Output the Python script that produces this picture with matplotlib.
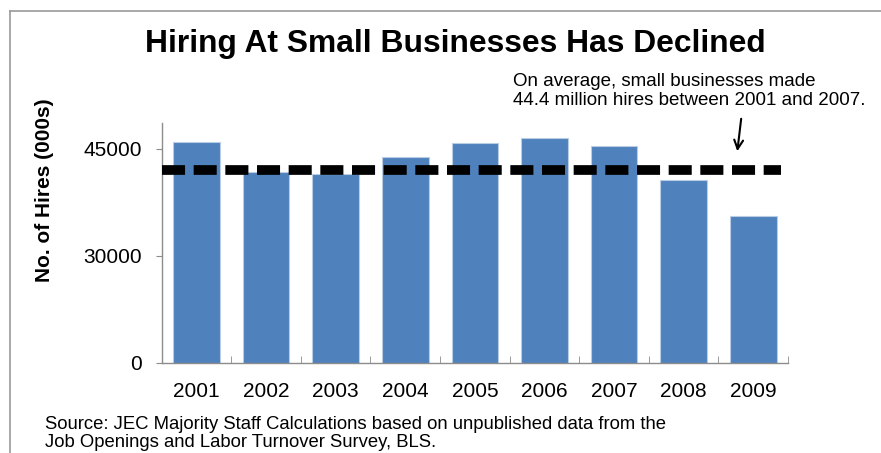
import matplotlib
matplotlib.use("Agg")
import matplotlib.pyplot as plt
from matplotlib.lines import Line2D
import numpy as np

plt.rcParams['font.family'] = ['Liberation Sans', 'DejaVu Sans']
plt.rcParams['lines.scale_dashes'] = False

years = ["2001", "2002", "2003", "2004", "2005", "2006", "2007", "2008", "2009"]
hires = [46000, 41800, 41550, 43850, 45850, 46500, 45450, 40600, 35550]
avg_line = 42100
ytick_vals = [15000, 30000, 45000]
ytick_labels = ["0", "30000", "45000"]

W, H = 881, 453
fig = plt.figure(figsize=(W / 100, H / 100), dpi=100)
ax = fig.add_axes([161.7 / W, 1 - 363 / H, (788 - 161.7) / W, (363 - 123.3) / H])

x = np.arange(len(years))
ax.bar(x, hires, width=0.67, color="#4F81BD", edgecolor="#b9cde5", linewidth=0.8, zorder=2)
ax.axhline(avg_line, xmin=0, xmax=0.989, color="black", linewidth=7,
           dashes=(16.6, 6.2), solid_capstyle="butt", dash_capstyle="butt", zorder=3)

ax.set_xlim(-0.5, len(years) - 0.5)
ax.set_ylim(15000, 48600)
ax.set_yticks(ytick_vals)
ax.set_yticklabels(ytick_labels)
ax.set_xticks(x)
ax.set_xticklabels(years)
ax.set_xticks(np.arange(len(years) + 1) - 0.5, minor=True)

for s in ["top", "right"]:
    ax.spines[s].set_visible(False)
for s in ["left", "bottom"]:
    ax.spines[s].set_color("#8c8c8c")
    ax.spines[s].set_linewidth(1.0)

ax.tick_params(axis="x", which="major", length=0, labelsize=15, pad=14, colors="black")
ax.tick_params(axis="x", which="minor", direction="in", length=5, color="#8c8c8c")
ax.tick_params(axis="y", which="major", direction="out", length=4, color="#8c8c8c",
               labelsize=15, pad=10, labelcolor="black")

fig.text(45 / W, 1 - 190 / H, "No. of Hires (000s)", rotation=90, fontsize=15,
         fontweight="bold", ha="center", va="center")

fig.text(455 / W, 1 - 44 / H, "Hiring At Small Businesses Has Declined", fontsize=22.9,
         fontweight="bold", ha="center", va="center")

fig.text(513 / W, 1 - 91 / H, "On average, small businesses made\n44.4 million hires between 2001 and 2007.",
         fontsize=13.5, ha="left", va="center", linespacing=1.1)

ax.annotate("", xy=(737 / W, 1 - 154 / H), xycoords="figure fraction",
            xytext=(741.5 / W, 1 - 116 / H), textcoords="figure fraction",
            arrowprops=dict(arrowstyle="->", color="black", lw=1.5, mutation_scale=16))

fig.text(45 / W, 1 - 451 / H,
         "Source: JEC Majority Staff Calculations based on unpublished data from the\nJob Openings and Labor Turnover Survey, BLS.",
         fontsize=13.3, ha="left", va="bottom", linespacing=1.05)

fig.add_artist(Line2D([10 / W, 10 / W], [0, 1 - 11 / H], transform=fig.transFigure,
                      color="#999999", lw=1.2))
fig.add_artist(Line2D([10 / W, 1], [1 - 11 / H, 1 - 11 / H], transform=fig.transFigure,
                      color="#999999", lw=1.2))

fig.savefig("out.png", dpi=100)
